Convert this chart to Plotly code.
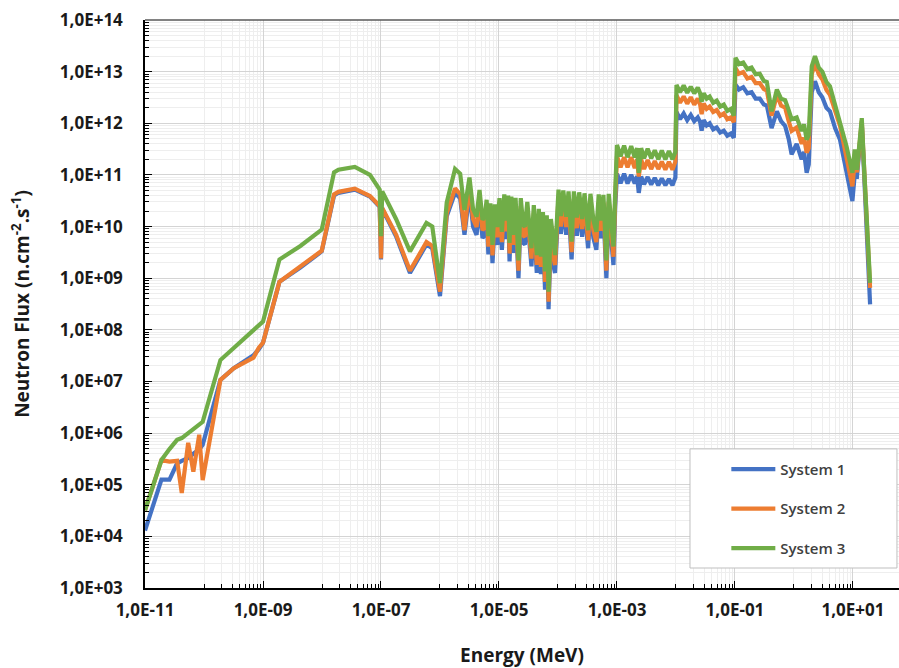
import plotly.graph_objects as go

# ---------------- data (energy in MeV, flux in n.cm-2.s-1) ----------------
energy_thermal = [1.0e-11, 1.9e-11, 2.6e-11, 3.5e-11, 4.2e-11, 5.4e-11, 6.6e-11, 8.3e-11, 9.5e-11,
                  1.9e-10, 3.2e-10, 6.9e-10, 8.5e-10, 1.0e-9, 1.9e-9, 4.3e-9, 9.9e-9]
sys1_thermal = [1.3e4, 1.25e5, 1.25e5, 2.6e5, 2.9e5, 3.3e5, 4.0e5, 4.8e5, 5.9e5,
                1.07e7, 1.8e7, 3.2e7, 4.2e7, 5.6e7, 8.5e8, 1.6e9, 3.3e9]
sys2_thermal = [3.2e4, 3.0e5, 2.8e5, 2.9e5, 6.9e4, 6.5e5, 1.8e5, 9.3e5, 1.23e5,
                1.07e7, 1.8e7, 2.9e7, 4.5e7, 5.6e7, 8.5e8, 1.65e9, 3.4e9]
sys3_thermal = [3.2e4, 3.0e5, 4.9e5, 7.4e5, 8.0e5, 1.0e6, 1.15e6, 1.4e6, 1.65e6,
                2.6e7, 4.5e7, 1.0e8, 1.25e8, 1.45e8, 2.3e9, 4.2e9, 8.7e9]

energy_epi = [1.6e-8, 1.9e-8, 3.6e-8, 6.5e-8, 9.5e-8, 1.0e-7, 1.05e-7, 1.8e-7, 3.1e-7,
              5.9e-7, 7.4e-7, 1.0e-6, 1.3e-6, 1.8e-6, 2.2e-6, 2.6e-6]
sys1_epi = [4.0e10, 4.5e10, 5.2e10, 3.8e10, 2.4e10, 2.3e9, 2.2e10, 6.5e9, 1.26e9,
            4.5e9, 3.8e9, 4.5e8, 1.58e10, 4.5e10, 3.5e10, 6.9e9]
sys2_epi = [4.2e10, 4.7e10, 5.4e10, 3.9e10, 2.5e10, 2.4e9, 2.3e10, 7.0e9, 1.4e9,
            5.0e9, 4.2e9, 5.5e8, 1.8e10, 5.5e10, 4.2e10, 8.5e9]
sys3_epi = [1.12e11, 1.26e11, 1.43e11, 1.0e11, 5.2e10, 6.5e9, 4.8e10, 1.4e10, 3.3e9,
            1.17e10, 1.0e10, 8.0e8, 2.9e10, 1.3e11, 1.05e11, 2.1e10]

energy_res = [3.16e-6, 3.63e-6, 4.17e-6, 4.68e-6, 5.25e-6, 5.75e-6, 6.17e-6, 6.61e-6, 7.16e-6, 7.76e-6,
              8.51e-6, 9.33e-6, 1.02e-5, 1.12e-5, 1.23e-5, 1.35e-5, 1.43e-5, 1.51e-5, 1.62e-5, 1.74e-5,
              1.91e-5, 2.14e-5, 2.34e-5, 2.57e-5, 2.75e-5, 3.02e-5, 3.31e-5, 3.55e-5, 3.89e-5, 4.37e-5,
              4.73e-5, 5.13e-5, 5.56e-5, 6.03e-5, 6.46e-5, 6.92e-5, 7.59e-5, 8.32e-5, 8.91e-5, 9.55e-5,
              1.02e-4, 1.12e-4, 1.23e-4, 1.38e-4, 1.51e-4, 1.70e-4, 1.86e-4, 2.09e-4, 2.29e-4, 2.57e-4,
              2.82e-4, 3.24e-4, 3.55e-4, 3.98e-4, 4.47e-4, 4.90e-4, 5.37e-4, 5.89e-4, 6.61e-4, 7.24e-4,
              7.94e-4, 8.71e-4, 9.33e-4]
sys1_res = [4.5e10, 1.0e10, 6.9e9, 2.6e10, 6.0e9, 6.9e9, 1.66e10, 2.9e9, 1.4e10, 1.95e9,
            1.35e10, 4.4e9, 1.8e10, 3.55e9, 2.1e10, 5.75e9, 2.0e10, 2.1e9, 1.9e10, 3.1e9,
            1.8e10, 1.0e9, 1.8e10, 4.8e9, 4.5e9, 1.5e10, 4.1e9, 1.7e9, 1.3e10, 1.26e9,
            1.1e10, 1.2e9, 9.5e9, 6.0e8, 8.3e9, 2.5e8, 7.1e9, 1.8e9, 1.26e9, 5.9e9,
            2.6e10, 7.2e9, 2.5e10, 6.9e9, 2.4e10, 2.3e9, 2.4e10, 6.6e9, 2.3e10, 6.3e9,
            2.2e10, 3.8e9, 2.1e10, 6.0e9, 3.55e9, 2.1e10, 5.9e9, 2.0e10, 1.0e9, 2.1e10,
            6.3e9, 1.8e9, 2.4e10]
sys2_res = [6.3e10, 1.4e10, 9.8e9, 3.6e10, 8.5e9, 9.8e9, 2.3e10, 4.1e9, 2.0e10, 2.75e9,
            1.9e10, 6.2e9, 2.5e10, 5.0e9, 2.95e10, 8.1e9, 2.8e10, 3.0e9, 2.7e10, 4.4e9,
            2.6e10, 1.4e9, 2.5e10, 6.8e9, 6.3e9, 2.1e10, 5.75e9, 2.4e9, 1.86e10, 1.8e9,
            1.6e10, 1.66e9, 1.35e10, 8.5e8, 1.2e10, 3.5e8, 1.0e10, 2.6e9, 1.8e9, 8.3e9,
            3.7e10, 1.0e10, 3.55e10, 9.8e9, 3.4e10, 3.2e9, 3.4e10, 9.3e9, 3.2e10, 8.9e9,
            3.1e10, 5.4e9, 3.0e10, 8.5e9, 5.0e9, 2.95e10, 8.3e9, 2.9e10, 1.4e9, 3.0e10,
            8.9e9, 2.6e9, 3.4e10]
sys3_res = [8.9e10, 2.2e10, 1.55e10, 5.1e10, 1.35e10, 1.55e10, 3.3e10, 6.5e9, 2.8e10, 4.4e9,
            2.7e10, 9.8e9, 3.55e10, 7.9e9, 4.2e10, 1.3e10, 4.0e10, 4.8e9, 3.8e10, 6.9e9,
            3.6e10, 2.2e9, 3.55e10, 1.07e10, 1.0e10, 3.0e10, 9.1e9, 3.8e9, 2.6e10, 2.8e9,
            2.2e10, 2.6e9, 1.9e10, 1.35e9, 1.66e10, 5.5e8, 1.4e10, 4.1e9, 2.8e9, 1.2e10,
            5.2e10, 1.6e10, 5.0e10, 1.55e10, 4.8e10, 5.1e9, 4.8e10, 1.5e10, 4.6e10, 1.4e10,
            4.4e10, 8.5e9, 4.3e10, 1.35e10, 7.9e9, 4.2e10, 1.3e10, 4.1e10, 2.2e9, 4.3e10,
            1.4e10, 4.1e9, 4.8e10]

energy_kev = [1.0e-3, 1.15e-3, 1.32e-3, 1.51e-3, 1.74e-3, 2.0e-3, 2.19e-3, 2.34e-3, 2.57e-3, 2.88e-3,
              3.31e-3, 3.8e-3, 4.37e-3, 5.01e-3, 5.75e-3, 6.61e-3, 7.59e-3, 8.71e-3, 9.77e-3]
sys1_kev = [1.05e11, 6.9e10, 1.05e11, 6.8e10, 1.0e11, 6.8e10, 9.5e10, 4.5e10, 9.3e10, 6.6e10,
            9.1e10, 6.5e10, 8.7e10, 6.3e10, 8.5e10, 6.3e10, 8.3e10, 6.3e10, 8.9e10]
sys2_kev = [2.3e11, 1.4e11, 2.2e11, 1.4e11, 2.2e11, 1.35e11, 2.0e11, 9.3e10, 2.0e11, 1.3e11,
            1.95e11, 1.3e11, 1.86e11, 1.3e11, 1.8e11, 1.26e11, 1.8e11, 1.26e11, 1.8e11]
sys3_kev = [3.8e11, 2.3e11, 3.7e11, 2.2e11, 3.6e11, 2.2e11, 3.3e11, 1.1e11, 3.3e11, 2.1e11,
            3.2e11, 2.1e11, 3.0e11, 2.0e11, 2.95e11, 2.0e11, 2.9e11, 2.0e11, 2.8e11]

energy_10kev = [1.02e-2, 1.17e-2, 1.35e-2, 1.55e-2, 1.78e-2, 2.04e-2, 2.34e-2, 2.57e-2, 2.72e-2, 2.95e-2,
                3.31e-2, 3.72e-2, 4.27e-2, 4.9e-2, 5.62e-2, 6.46e-2, 7.41e-2, 8.51e-2, 9.55e-2]
sys1_10kev = [1.66e12, 1.2e12, 1.55e12, 1.15e12, 1.45e12, 1.1e12, 1.3e12, 1.05e12, 7.2e11, 1.15e12,
              9.1e11, 1.0e12, 7.6e11, 8.3e11, 6.6e11, 7.2e11, 5.75e11, 6.3e11, 5.25e11]
sys2_10kev = [3.5e12, 2.5e12, 3.3e12, 2.4e12, 3.2e12, 2.3e12, 3.0e12, 2.3e12, 1.5e12, 2.4e12,
              1.9e12, 2.1e12, 1.66e12, 1.8e12, 1.4e12, 1.55e12, 1.2e12, 1.3e12, 1.05e12]
sys3_10kev = [5.5e12, 4.0e12, 5.4e12, 3.9e12, 5.1e12, 3.8e12, 4.9e12, 3.8e12, 2.6e12, 3.8e12,
              3.0e12, 3.3e12, 2.5e12, 2.75e12, 2.1e12, 2.3e12, 1.74e12, 1.9e12, 1.4e12]

energy_fast = [0.102, 0.117, 0.138, 0.162, 0.191, 0.224, 0.263, 0.309, 0.347, 0.417,
               0.513, 0.603, 0.708, 0.813, 0.912, 1.11, 1.35, 1.48, 1.64, 1.78,
               2.0, 2.27, 2.63, 3.02, 3.55, 4.07, 5.01, 6.03, 7.76, 9.77,
               10.7, 11.7, 14.1, 15.5, 19.5]
sys1_fast = [5.6e12, 4.5e12, 5.0e12, 3.8e12, 4.0e12, 3.0e12, 3.0e12, 2.3e12, 2.2e12, 8.1e11,
             1.7e12, 1.1e12, 8.9e11, 5.0e11, 2.5e11, 4.0e11, 2.0e11, 2.8e11, 1.1e11, 1.6e11,
             4.0e12, 6.5e12, 4.0e12, 3.2e12, 2.0e12, 1.7e12, 7.9e11, 4.8e11, 1.1e11, 3.1e10,
             1.0e11, 9.5e10, 1.0e12, 1.0e11, 3.1e8]
sys2_fast = [1.17e13, 9.1e12, 9.8e12, 7.4e12, 7.9e12, 6.0e12, 6.0e12, 4.6e12, 4.3e12, 1.4e12,
             3.55e12, 2.2e12, 2.0e12, 1.1e12, 7.1e11, 8.3e11, 4.0e11, 5.25e11, 2.7e11, 3.3e11,
             8.9e12, 1.48e13, 8.9e12, 7.1e12, 4.4e12, 3.55e12, 1.6e12, 8.9e11, 2.2e11, 6.0e10,
             1.8e11, 1.12e11, 1.12e12, 1.12e11, 6.5e8]
sys3_fast = [1.86e13, 1.4e13, 1.5e13, 1.12e13, 1.2e13, 8.9e12, 9.1e12, 6.6e12, 6.3e12, 1.7e12,
             4.5e12, 3.0e12, 2.8e12, 1.8e12, 1.2e12, 1.3e12, 7.1e11, 9.5e11, 4.8e11, 6.0e11,
             1.26e13, 2.0e13, 1.2e13, 1.0e13, 6.3e12, 5.2e12, 2.2e12, 1.2e12, 3.6e11, 1.1e11,
             3.1e11, 1.26e11, 1.26e12, 1.26e11, 8.1e8]

series_names = ["System 1", "System 2", "System 3"]
series_colors = ["#4472C4", "#ED7D31", "#70AD47"]

x_tick_vals = [1e-11, 1e-9, 1e-7, 1e-5, 1e-3, 1e-1, 1e1]
x_tick_text = ["1,0E-11", "1,0E-09", "1,0E-07", "1,0E-05", "1,0E-03", "1,0E-01", "1,0E+01"]
y_tick_vals = [1e3, 1e4, 1e5, 1e6, 1e7, 1e8, 1e9, 1e10, 1e11, 1e12, 1e13, 1e14]
y_tick_text = ["1,0E+03", "1,0E+04", "1,0E+05", "1,0E+06", "1,0E+07", "1,0E+08", "1,0E+09",
               "1,0E+10", "1,0E+11", "1,0E+12", "1,0E+13", "1,0E+14"]

# ---------------- assemble ----------------
energy = energy_thermal + energy_epi + energy_res + energy_kev + energy_10kev + energy_fast
flux = [
    sys1_thermal + sys1_epi + sys1_res + sys1_kev + sys1_10kev + sys1_fast,
    sys2_thermal + sys2_epi + sys2_res + sys2_kev + sys2_10kev + sys2_fast,
    sys3_thermal + sys3_epi + sys3_res + sys3_kev + sys3_10kev + sys3_fast,
]
for f in flux:
    assert len(f) == len(energy), (len(f), len(energy))

# Excel-style base-100 log axis: minor ticks at 10..90 x each labelled major
x_minor = [k * 10 * v for v in x_tick_vals for k in range(1, 10)]
y_minor = [k * v for v in y_tick_vals[:-1] for k in range(2, 10)]

fig = go.Figure()
for i in range(3):
    fig.add_trace(go.Scatter(
        x=energy, y=flux[i], mode="lines", name=series_names[i],
        legendgroup=f"g{i}",
        line=dict(color=series_colors[i], width=4.2),
    ))

tick_font = dict(family="Open Sans", size=17, color="#1a1a1a", weight=700)

fig.update_layout(
    width=899, height=668,
    margin=dict(l=145, r=0, t=20, b=80),
    paper_bgcolor="white", plot_bgcolor="white",
    showlegend=True,
    legend=dict(
        x=0.771, y=0.238, xanchor="left", yanchor="top",
        bgcolor="rgba(0,0,0,0)", borderwidth=0,
        font=dict(family="Open Sans", size=15, color="#404040", weight=600),
        tracegroupgap=17, itemwidth=44,
    ),
    xaxis=dict(
        type="log", range=[-11, 1.78], automargin=False,
        tickmode="array", tickvals=x_tick_vals, ticktext=x_tick_text,
        ticks="inside", ticklen=7, tickcolor="black",
        showline=True, linecolor="black", linewidth=1.5,
        showgrid=True, gridcolor="#d4d4d4", gridwidth=1,
        minor=dict(tickvals=x_minor, ticks="inside", ticklen=4, tickcolor="black",
                   showgrid=True, gridcolor="#eeeeee", gridwidth=1),
        tickfont=tick_font, ticklabelstandoff=6, zeroline=False,
        title=dict(text="Energy (MeV)", font=dict(family="Open Sans", size=19, color="#1a1a1a", weight=700), standoff=29),
    ),
    yaxis=dict(
        type="log", range=[3, 14], automargin=False,
        tickmode="array", tickvals=y_tick_vals, ticktext=y_tick_text,
        ticks="inside", ticklen=7, tickcolor="black",
        showline=True, linecolor="black", linewidth=1.5,
        showgrid=True, gridcolor="#d4d4d4", gridwidth=1,
        minor=dict(tickvals=y_minor, ticks="inside", ticklen=4, tickcolor="black",
                   showgrid=True, gridcolor="#eeeeee", gridwidth=1),
        tickfont=tick_font, ticklabelstandoff=17, zeroline=False,
        title=dict(text="Neutron Flux (n.cm<sup>-2</sup>.s<sup>-1</sup>)",
                   font=dict(family="Open Sans", size=19, color="#1a1a1a", weight=700), standoff=25),
    ),
    shapes=[
        dict(type="line", xref="paper", yref="paper", x0=0, x1=1, y0=1, y1=1,
             line=dict(color="#595959", width=1.5), layer="above"),
        dict(type="rect", xref="paper", yref="paper", x0=0.7228, x1=0.9973, y0=0.0352, y1=0.2449,
             fillcolor="white", line=dict(color="#bfbfbf", width=1), layer="above"),
    ],
)

fig.write_html(
    "out.html",
    config={"displayModeBar": False},
    post_script="document.body.style.margin='0';document.body.style.overflow='hidden';",
)
